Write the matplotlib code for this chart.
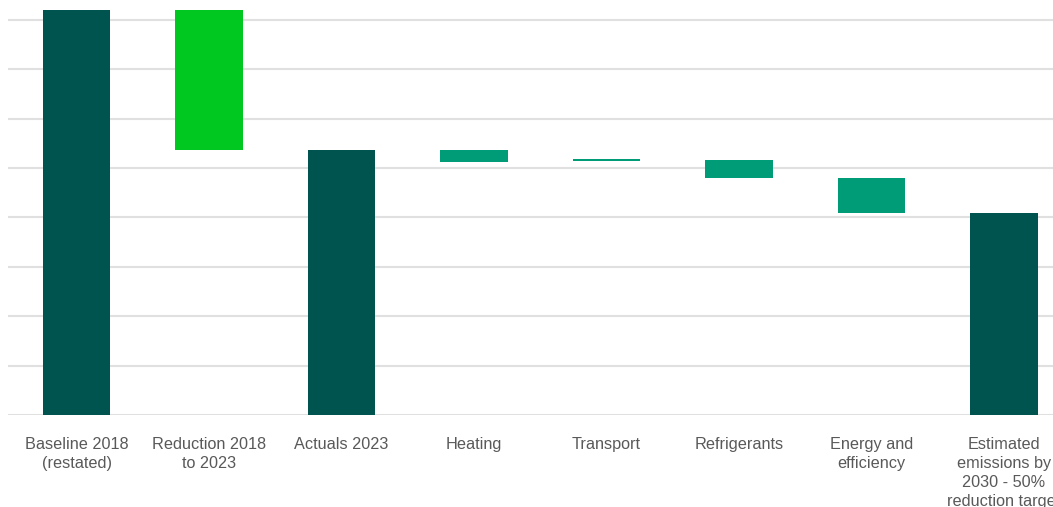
import matplotlib
matplotlib.use("Agg")
import matplotlib.pyplot as plt

# data (tCO2e)
categories = ["Baseline 2018\n(restated)", "Reduction 2018\nto 2023", "Actuals 2023",
              "Heating", "Transport", "Refrigerants", "Energy and\nefficiency",
              "Estimated\nemissions by\n2030 - 50%\nreduction target"]
bar_start = [0, 820, 0, 537, 518, 516, 479, 0]
bar_end = [820, 537, 537, 512, 514, 479, 410, 410]
kind = ["total", "reduction", "total", "step", "step", "step", "step", "total"]

colors = {"total": "#005450", "reduction": "#00C821", "step": "#009B77"}

plt.rcParams['font.family'] = ['Liberation Sans', 'DejaVu Sans']

fig = plt.figure(figsize=(10.53, 5.07), dpi=100)
ax = fig.add_axes([0.0076, 1 - 415 / 507, 1 - 0.0076, 415 / 507])

x = list(range(len(categories)))
bottoms = [min(s, e) for s, e in zip(bar_start, bar_end)]
heights = [abs(e - s) for s, e in zip(bar_start, bar_end)]
ax.bar(x, heights, bottom=bottoms, width=0.51,
       color=[colors[k] for k in kind], zorder=3)

ax.set_xlim(-0.517, 7.37)
ax.set_ylim(0, 840.5)
ax.set_yticks(range(0, 900, 100))
ax.yaxis.grid(True, color="#e0e0e0", linewidth=1.5, zorder=0)
ax.set_yticklabels([])
ax.tick_params(axis="y", length=0)
ax.tick_params(axis="x", length=0, pad=15.5, labelsize=11.7, labelcolor="#595959")
ax.set_xticks(x)
ax.set_xticklabels(categories, linespacing=1.36, va="top")
for s in ax.spines.values():
    s.set_visible(False)

fig.savefig("out.png", dpi=100)
